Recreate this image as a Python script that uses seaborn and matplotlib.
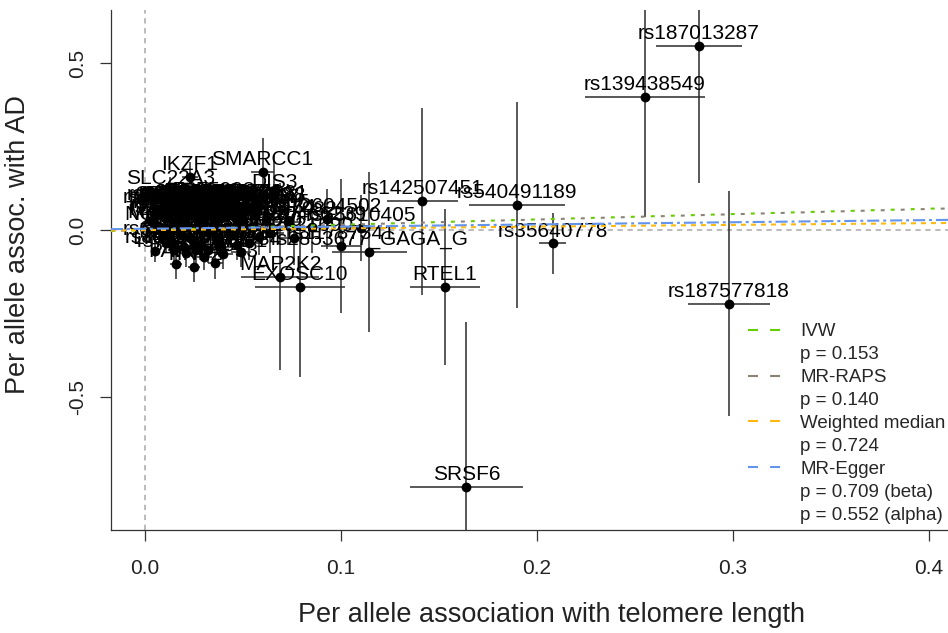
import matplotlib
matplotlib.use("Agg")
import matplotlib.pyplot as plt
from matplotlib.lines import Line2D
import seaborn as sns
import pandas as pd

# ---------------- data ----------------
snp_labels = [
    "TERT", "LIN9", "TERC", "NOP10", "PXK", "ACD", "TEN1", "POT1",
    "MYC", "SLC22A3", "OBFC1", "rs6060627", "NAF1", "PARN", "rs2736100", "ACYP2",
    "ZNF208", "rs1056279", "rs9420907", "DCAF4", "rs10936600", "MPHOSPH6", "rs2735940", "IKZF1",
    "SMUG1", "rs7705526", "TINF2", "rs412658", "DHX35", "SENP7", "rs34978822", "rs6772228",
    "PRRC2A", "BCL2L1", "TYMS", "rs3027234", "TERF1", "TERF2", "rs8105767", "RFWD3",
    "WRAP53", "CXXC1", "NKX2-3", "rs75691080", "KBTBD6", "SAMHD1", "rs59294613", "CARMIL1",
    "ATP8B4", "PIK3C2A", "rs7194734", "USP7", "CENPF", "rs11125529", "PRDM16", "rs13137667",
    "BRD2", "rs4387287", "rs55749605", "TRIM28", "SMARCC1", "rs6428434", "SP140", "DIS3",
    "MAP2K2", "rs1317082", "rs112321690", "EXOSC10", "rs10466239", "rs12604502", "rs11787341",
    "rs55610405", "rs2853677_GAGA_G",
    "ATM", "CTC1", "DKC1", "STN1", "rs3785074", "rs8033165", "rs2302588",
    "rs228595", "rs7776744", "TERF2IP", "rs4452212", "rs1975174", "rs73624724", "rs9419958",
    "rs7675998", "rs2306494", "rs11791415", "rs12422015", "rs9257445", "rs10911355",
    "rs2967374", "rs11154919", "LRRC34", "rs3219104", "rs35510081", "rs9366288",
    "rs142507451", "rs540491189", "rs35640778", "RTEL1", "SRSF6", "rs139438549",
    "rs187013287", "rs187577818",
]
bx = [
    0.004, 0.005, 0.006, 0.007, 0.008, 0.009, 0.010, 0.011,
    0.012, 0.013, 0.013, 0.014, 0.015, 0.016, 0.016, 0.017,
    0.018, 0.018, 0.019, 0.020, 0.020, 0.021, 0.022, 0.023,
    0.023, 0.024, 0.025, 0.025, 0.026, 0.027, 0.028, 0.028,
    0.029, 0.030, 0.030, 0.031, 0.032, 0.033, 0.034, 0.035,
    0.036, 0.036, 0.037, 0.038, 0.039, 0.040, 0.041, 0.042,
    0.043, 0.044, 0.045, 0.046, 0.047, 0.048, 0.050, 0.051,
    0.053, 0.054, 0.056, 0.058, 0.060, 0.062, 0.064, 0.066,
    0.069, 0.073, 0.076, 0.079, 0.085, 0.093, 0.100,
    0.110, 0.1145,
    0.006, 0.009, 0.011, 0.012, 0.014, 0.015, 0.017,
    0.019, 0.021, 0.022, 0.024, 0.026, 0.027, 0.029,
    0.031, 0.032, 0.034, 0.037, 0.039, 0.041,
    0.044, 0.047, 0.049, 0.052, 0.055, 0.057,
    0.1415, 0.190, 0.208, 0.153, 0.164, 0.255,
    0.2825, 0.298,
]
by = [
    0.024, -0.062, 0.045, 0.010, 0.062, -0.020, 0.035, 0.060,
    0.000, 0.118, 0.050, -0.035, 0.020, -0.102, 0.070, 0.070,
    -0.010, 0.040, 0.060, -0.050, 0.065, 0.015, 0.075, 0.160,
    -0.025, 0.045, -0.110, 0.060, 0.005, 0.055, -0.045, 0.072,
    0.030, -0.080, 0.070, 0.068, -0.005, 0.050, 0.075, 0.020,
    -0.100, 0.065, -0.030, 0.062, 0.035, -0.072, 0.070, 0.010,
    0.055, -0.015, 0.075, 0.040, -0.045, 0.066, 0.025, 0.060,
    -0.040, 0.010, 0.045, -0.020, 0.175, 0.030, -0.010, 0.105,
    -0.140, 0.024, -0.024, -0.170, 0.010, 0.033, -0.048,
    0.006, -0.066,
    0.050, 0.070, -0.040, 0.060, 0.060, -0.060, 0.030,
    0.075, -0.070, 0.050, 0.078, -0.060, 0.068, 0.010,
    0.080, -0.060, 0.058, 0.074, -0.050, 0.045,
    0.076, 0.015, -0.065, 0.060, 0.072, 0.065,
    0.087, 0.075, -0.040, -0.170, -0.768, 0.398,
    0.551, -0.220,
]
se_bx = [
    0.0015, 0.0015, 0.002, 0.002, 0.002, 0.002, 0.002, 0.003,
    0.002, 0.003, 0.003, 0.003, 0.003, 0.003, 0.003, 0.003,
    0.003, 0.003, 0.003, 0.003, 0.003, 0.003, 0.003, 0.004,
    0.003, 0.003, 0.003, 0.004, 0.003, 0.004, 0.004, 0.004,
    0.004, 0.004, 0.004, 0.004, 0.004, 0.004, 0.004, 0.004,
    0.004, 0.004, 0.004, 0.005, 0.004, 0.005, 0.005, 0.005,
    0.005, 0.005, 0.005, 0.005, 0.005, 0.005, 0.005, 0.006,
    0.006, 0.006, 0.006, 0.006, 0.006, 0.006, 0.007, 0.007,
    0.020, 0.007, 0.008, 0.023, 0.008, 0.009, 0.010,
    0.010, 0.019,
    0.002, 0.002, 0.002, 0.002, 0.003, 0.003, 0.003,
    0.003, 0.003, 0.003, 0.004, 0.003, 0.004, 0.004,
    0.004, 0.004, 0.004, 0.005, 0.005, 0.005,
    0.005, 0.005, 0.005, 0.006, 0.006, 0.006,
    0.018, 0.0245, 0.007, 0.018, 0.029, 0.0305,
    0.022, 0.021,
]
se_by = [
    0.030, 0.035, 0.030, 0.028, 0.035, 0.030, 0.028, 0.040,
    0.030, 0.040, 0.035, 0.030, 0.030, 0.045, 0.035, 0.040,
    0.030, 0.035, 0.040, 0.035, 0.040, 0.030, 0.035, 0.045,
    0.035, 0.035, 0.045, 0.040, 0.030, 0.035, 0.035, 0.045,
    0.035, 0.040, 0.040, 0.040, 0.035, 0.040, 0.045, 0.035,
    0.045, 0.040, 0.035, 0.045, 0.040, 0.045, 0.045, 0.040,
    0.040, 0.040, 0.045, 0.040, 0.045, 0.045, 0.045, 0.050,
    0.050, 0.050, 0.055, 0.055, 0.100, 0.060, 0.060, 0.120,
    0.280, 0.070, 0.080, 0.270, 0.080, 0.090, 0.200,
    0.100, 0.240,
    0.030, 0.035, 0.030, 0.030, 0.035, 0.035, 0.030,
    0.040, 0.040, 0.035, 0.045, 0.040, 0.040, 0.035,
    0.045, 0.040, 0.040, 0.045, 0.040, 0.040,
    0.045, 0.045, 0.045, 0.050, 0.055, 0.055,
    0.280, 0.308, 0.092, 0.233, 0.493, 0.359,
    0.410, 0.337,
]

method_names = ["IVW", "MR-RAPS", "Weighted median", "MR-Egger"]
method_slopes = [0.160, 0.158, 0.052, 0.065]
method_intercepts = [0.0, 0.0, 0.0, 0.004]
method_pvals = ["p = 0.153", "p = 0.140", "p = 0.724", "p = 0.709 (beta)"]
egger_alpha_pval = "p = 0.552 (alpha)"
method_colors = ["#66CD00", "#8B8378", "#FFB90F", "#6495ED"]

x_ticks = [0.0, 0.1, 0.2, 0.3, 0.4]
x_tick_labels = ["0.0", "0.1", "0.2", "0.3", "0.4"]
y_ticks = [-0.5, 0.0, 0.5]
y_tick_labels = ["-0.5", "0.0", "0.5"]

df = pd.DataFrame({"label": snp_labels, "bx": bx, "by": by, "se_bx": se_bx, "se_by": se_by})

# ---------------- figure ----------------
sns.set_theme(style="white")
plt.rcParams["font.family"] = ["Liberation Sans", "DejaVu Sans"]

W, H = 948, 633
fig = plt.figure(figsize=(W / 100, H / 100), dpi=100)
ax_l, ax_r, ax_b, ax_t = 111, 948, 530, 10
ax = fig.add_axes([ax_l / W, 1 - ax_b / H, (ax_r - ax_l) / W, (ax_b - ax_t) / H])

ax.set_xlim(-0.0173, 0.4097)
ax.set_ylim(-0.898, 0.659)

# reference lines
ax.axhline(0, color="#a8a8a8", lw=1.1, dashes=(3.5, 3.0), zorder=1)
ax.axvline(0, color="#a8a8a8", lw=1.1, dashes=(3.5, 3.0), zorder=1)

# error bars
ax.errorbar(df["bx"], df["by"], xerr=df["se_bx"], yerr=df["se_by"], fmt="none",
            ecolor="#2b2b2b", elinewidth=1.1, capsize=0, zorder=2)
sns.scatterplot(data=df, x="bx", y="by", color="black", s=50, linewidth=0,
                ax=ax, zorder=3, legend=False)

for _, r in df.iterrows():
    ax.annotate(r["label"], (r["bx"], r["by"]), xytext=(0, 5), textcoords="offset points",
                ha="center", va="baseline", fontsize=15, color="black", zorder=3)

# method lines
line_styles = [
    (0, (1.9, 7.7)),
    (4.8, (1.9, 7.7)),
    (0, (2.4, 2.4)),
    (0, (5.8, 1.9, 1.4, 1.9)),
]
for name, sl, ic, col, ls in zip(method_names, method_slopes, method_intercepts,
                                 method_colors, line_styles):
    ax.axline((0, ic), slope=sl, color=col, lw=1.5, linestyle=ls, zorder=5)

# legend
handles, labels = [], []
for name, pv, col in zip(method_names, method_pvals, method_colors):
    handles.append(Line2D([], [], color=col, lw=1.5, dashes=(4.8, 5.8)))
    labels.append(name)
    handles.append(Line2D([], [], color="none"))
    labels.append(pv)
handles.append(Line2D([], [], color="none"))
labels.append(egger_alpha_pval)
ax.legend(handles, labels, loc="lower right", bbox_to_anchor=(0.997, 0.012),
          frameon=False, fontsize=13.5, handlelength=1.8, handletextpad=1.0,
          labelspacing=0.31, borderaxespad=0, borderpad=0)

# axes styling
for s in ["top", "right"]:
    ax.spines[s].set_visible(False)
for s in ["left", "bottom"]:
    ax.spines[s].set_color("#333333")
    ax.spines[s].set_linewidth(0.9)
ax.set_xticks(x_ticks)
ax.set_xticklabels(x_tick_labels)
ax.set_yticks(y_ticks)
ax.set_yticklabels(y_tick_labels, rotation=90, va="center")
ax.tick_params(axis="both", direction="out", length=8, width=0.9, color="#333333",
               labelsize=15, labelcolor="#222222", bottom=True, left=True)
ax.tick_params(axis="x", pad=13)
ax.tick_params(axis="y", pad=9)

ax.set_xlabel("Per allele association with telomere length", fontsize=19.5, color="#222222")
ax.set_ylabel("Per allele assoc. with AD", fontsize=19.5, color="#222222")
ax.xaxis.set_label_coords((551 - ax_l) / (ax_r - ax_l), (ax_b - 615) / (ax_b - ax_t))
ax.xaxis.label.set_va("center")
ax.yaxis.set_label_coords((18 - ax_l) / (ax_r - ax_l), (ax_b - 245) / (ax_b - ax_t))
ax.yaxis.label.set_va("center")

fig.savefig("out.png", dpi=100)
